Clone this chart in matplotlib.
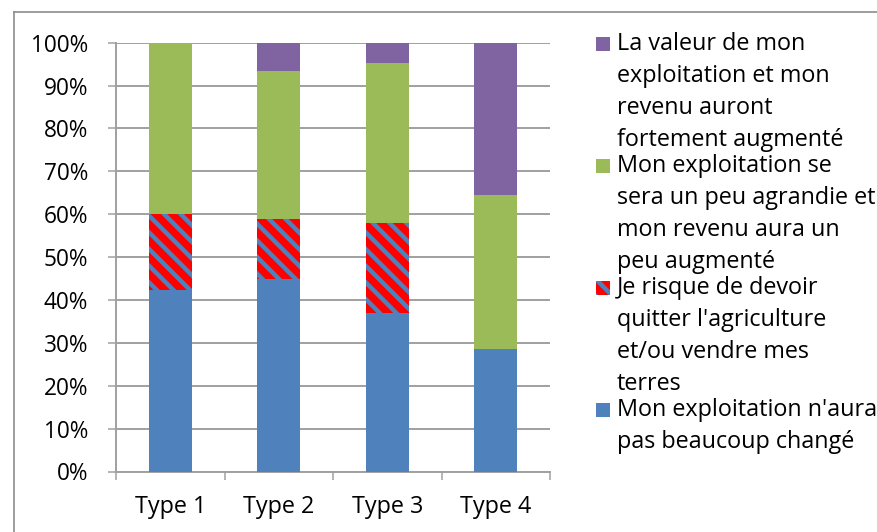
import numpy as np
import matplotlib
matplotlib.use("Agg")
import matplotlib.pyplot as plt
from matplotlib.patches import Rectangle
from matplotlib.lines import Line2D

# Données (en %)
categories = ["Type 1", "Type 2", "Type 3", "Type 4"]
quitte = [42.3, 44.9, 36.9, 28.6]        # pas beaucoup changé (bleu)
risque = [17.7, 14.0, 21.1, 0.0]         # risque de quitter (rayé)
agrandie = [40.0, 34.5, 37.2, 35.9]      # un peu agrandie (vert)
fortement = [0.0, 6.6, 4.8, 35.5]        # fortement augmenté (violet)

etiquettes = [
    "La valeur de mon\nexploitation et mon\nrevenu auront\nfortement augmenté",
    "Mon exploitation se\nsera un peu agrandie et\nmon revenu aura un\npeu augmenté",
    "Je risque de devoir\nquitter l'agriculture\net/ou vendre mes\nterres",
    "Mon exploitation n'aura\npas beaucoup changé",
]

bleu = "#4f81bd"
rouge = "#ff0000"
vert = "#9bbb59"
violet = "#8064a2"
gris = "#a0a0a0"

plt.rcParams["font.family"] = ["Open Sans", "DejaVu Sans"]
plt.rcParams["hatch.linewidth"] = 3.2

W, H = 877, 532
fig = plt.figure(figsize=(W / 100, H / 100), dpi=100)

# position des axes en pixels
x0, x1, y_top, y_bot = 116, 550, 42.7, 471.5
ax = fig.add_axes([x0 / W, (H - y_bot) / H, (x1 - x0) / W, (y_bot - y_top) / H])

x = np.arange(1, len(categories) + 1)
larg = 0.40
b1 = np.array(quitte)
b2 = b1 + np.array(risque)
b3 = b2 + np.array(agrandie)

ax.bar(x, quitte, larg, color=bleu, linewidth=0, zorder=3)
ax.bar(x, risque, larg, bottom=b1, facecolor=rouge, edgecolor=bleu,
       hatch="\\\\", linewidth=0, zorder=3)
ax.bar(x, agrandie, larg, bottom=b2, color=vert, linewidth=0, zorder=3)
ax.bar(x, fortement, larg, bottom=b3, color=violet, linewidth=0, zorder=3)

ax.set_xlim(0.5, 4.5)
ax.set_ylim(0, 100)

# grille et axes
ax.set_yticks(np.arange(0, 101, 10))
ax.set_yticklabels([f"{v}%" for v in range(0, 101, 10)], fontsize=16.3)
ax.yaxis.grid(True, color=gris, linewidth=1.4, zorder=0)
ax.set_axisbelow(True)
ax.tick_params(axis="y", length=6, width=1.1, color=gris, pad=14)

ax.set_xticks(np.arange(0.5, 4.6, 1))
ax.set_xticklabels([])
ax.set_xticks(x, minor=True)
ax.set_xticklabels(categories, minor=True, fontsize=16.8)
ax.tick_params(axis="x", which="major", length=6, width=1.1, color=gris, direction="out")
ax.tick_params(axis="x", which="minor", length=0, pad=17)

for s in ["top", "right"]:
    ax.spines[s].set_visible(False)
for s in ["left", "bottom"]:
    ax.spines[s].set_color(gris)
    ax.spines[s].set_linewidth(1.4)

# légende faite à la main
couleurs = [violet, vert, rouge, bleu]
debut = [44, 166, 288, 410]
pas = 32
for lab, c, y0 in zip(etiquettes, couleurs, debut):
    sq = 14
    if c == rouge:
        r = Rectangle((596 / W, (H - y0 - sq / 2) / H), sq / W, sq / H,
                      transform=fig.transFigure, facecolor=rouge, edgecolor=bleu,
                      hatch="\\\\", linewidth=0)
    else:
        r = Rectangle((596 / W, (H - y0 - sq / 2) / H), sq / W, sq / H,
                      transform=fig.transFigure, facecolor=c, linewidth=0)
    fig.add_artist(r)
    for i, ligne in enumerate(lab.split("\n")):
        fig.text(617 / W, (H - (y0 + i * pas) - 6) / H, ligne, fontsize=16.8,
                 va="baseline", ha="left")

# cadre du graphique
fig.add_artist(Line2D([14 / W, 14 / W], [0, (H - 12) / H], color="#8c8c8c", linewidth=1.2,
                      transform=fig.transFigure))
fig.add_artist(Line2D([14 / W, 1], [(H - 12) / H, (H - 12) / H], color="#8c8c8c", linewidth=1.2,
                      transform=fig.transFigure))

fig.savefig("out.png", dpi=100)
